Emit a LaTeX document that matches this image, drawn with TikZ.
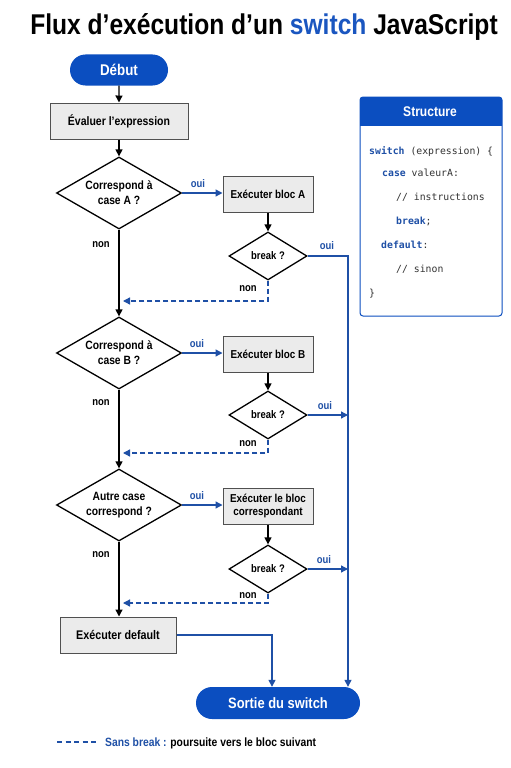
\documentclass[tikz,border=0pt]{standalone}
\usepackage{fontspec}
\setmainfont{Liberation Sans}[FakeStretch=0.86]
\newfontfamily\codefont{DejaVu Sans Mono}
\usetikzlibrary{arrows.meta,shapes.geometric,shapes.misc,calc}
\definecolor{mainblue}{HTML}{0B4EC0}
\definecolor{lineblue}{HTML}{1F50A6}
\definecolor{titleblue}{HTML}{1A56C0}
\definecolor{boxfill}{HTML}{EBEBEB}
\definecolor{boxborder}{HTML}{505050}
\definecolor{codegray}{HTML}{333333}
\begin{document}
\begin{tikzpicture}[x=1pt,y=-1pt,
  tip/.style={-{Triangle[length=7pt,width=7pt]}},
  flow/.style={draw=black, line width=1.3pt, tip},
  bline/.style={draw=lineblue, line width=1.3pt},
  bflow/.style={bline, tip},
  dflow/.style={bflow, dash pattern=on 5pt off 3pt},
  procbox/.style={rectangle, draw=boxborder, fill=boxfill, line width=1pt, inner sep=0, align=center, font=\bfseries\fontsize{11.5}{13.5}\selectfont},
  decision/.style={diamond, draw=black, fill=white, line width=1.3pt, aspect=1.75, inner sep=0, align=center, font=\bfseries\fontsize{12}{15}\selectfont},
  brk/.style={decision, minimum width=78, minimum height=48, font=\bfseries\fontsize{11}{13}\selectfont},
  terminal/.style={rounded rectangle, fill=mainblue, text=white, inner sep=0, font=\bfseries\fontsize{15}{17}\selectfont},
  oui/.style={text=lineblue, font=\bfseries\fontsize{11}{13}\selectfont},
  non/.style={text=black, font=\bfseries\fontsize{11}{13}\selectfont},
  code/.style={anchor=base west, inner sep=0, text=codegray, font=\codefont\fontsize{9.8}{12}\selectfont}]
\useasboundingbox (0,0) rectangle (511,768);
\fill[white] (0,0) rectangle (511,768);

% title
\node (title) at (264,27) {\bfseries\fontsize{28.6}{30}\selectfont Flux d’exécution d’un \textcolor{titleblue}{switch} JavaScript};

% main nodes
\node[terminal, minimum width=98, minimum height=31, font=\bfseries\fontsize{15.5}{17}\selectfont] (debut) at (119,70) {Début};
\node[procbox, minimum width=138, minimum height=36, font=\bfseries\fontsize{12.2}{15}\selectfont] (eval) at (119,121) {Évaluer l’expression};
\node[decision, minimum width=125, minimum height=72] (decA) at (119,193) {Correspond à\\case A ?};
\node[procbox, minimum width=90, minimum height=36] (boxA) at (268,194) {Exécuter bloc A};
\node[brk] (brkA) at (268,256) {break ?};

\node[decision, minimum width=125, minimum height=72] (decB) at (119,353) {Correspond à\\case B ?};
\node[procbox, minimum width=90, minimum height=36] (boxB) at (268,354) {Exécuter bloc B};
\node[brk] (brkB) at (268,415) {break ?};

\node[decision, minimum width=125, minimum height=72] (decC) at (119,505) {Autre case\\correspond ?};
\node[procbox, minimum width=90, minimum height=36] (boxC) at (268,506) {Exécuter le bloc\\correspondant};
\node[brk] (brkC) at (268,569) {break ?};

\node[procbox, minimum width=116, minimum height=36, font=\bfseries\fontsize{12.5}{14}\selectfont] (def) at (118,635) {Exécuter default};
\node[terminal, minimum width=164, minimum height=32] (sortie) at (278,703) {Sortie du switch};

% black flow
\draw[flow] (debut) -- (eval);
\draw[flow] (eval) -- (decA);
\draw[flow] (decA) -- (decB);
\draw[flow] (decB) -- (decC);
\draw[flow] (decC.south) -- (decC.south |- def.north);
\draw[flow] (boxA) -- (brkA);
\draw[flow] (boxB) -- (brkB);
\draw[flow] (boxC) -- (brkC);

% oui to blocks
\draw[bflow] (decA.east) -- (boxA.west |- decA.east);
\draw[bflow] (decB.east) -- (boxB.west |- decB.east);
\draw[bflow] (decC.east) -- (boxC.west |- decC.east);
\node[oui] at (198,184) {oui};
\node[oui] at (197,344) {oui};
\node[oui] at (197,496) {oui};

% non labels main
\node[non] at (101,245) {non};
\node[non] at (101,403) {non};
\node[non] at (101,555) {non};

% break oui
\coordinate (rtop) at (348,256);
\draw[bflow] (brkA.east) -- (rtop) -- (rtop |- sortie.north);
\draw[bflow] (brkB.east) -- (rtop |- brkB.east);
\draw[bflow] (brkC.east) -- (rtop |- brkC.east);
\node[oui] at (327,246) {oui};
\node[oui] at (325,406) {oui};
\node[oui] at (324,560) {oui};

% break non (dashed)
\coordinate (jA) at (123,301);
\coordinate (jB) at (123,453);
\coordinate (jC) at (123,603);
\draw[dflow] (brkA.south) |- (jA);
\draw[dflow] (brkB.south) |- (jB);
\draw[dflow] (brkC.south) |- (jC);
\node[non] at (248,289) {non};
\node[non] at (248,444) {non};
\node[non] at (248,596) {non};

% default to exit
\coordinate (sin) at (272,703);
\draw[bflow] (def.east) -| (sin |- sortie.north);

% structure panel
\begin{scope}
\clip[rounded corners=3] (360,97) rectangle (502,316);
\fill[white] (360,97) rectangle (502,316);
\fill[mainblue] (360,97) rectangle (502,126);
\end{scope}
\draw[mainblue, line width=1pt, rounded corners=3] (360,97) rectangle (502,316);
\node[text=white, font=\bfseries\fontsize{14}{16}\selectfont] (structhead) at (430,112) {Structure};
\node[code] (c1) at (369,154.5) {\textcolor{lineblue}{\bfseries switch} (expression) \{};
\node[code] (c2) at (382,176.5) {\textcolor{lineblue}{\bfseries case} valeurA:};
\node[code] (c3) at (396,200.5) {// instructions};
\node[code] (c4) at (396,224.5) {\textcolor{lineblue}{\bfseries break};};
\node[code] (c5) at (381,248.5) {\textcolor{lineblue}{\bfseries default}:};
\node[code] (c6) at (396,272.5) {// sinon};
\node[code] (c7) at (369,296.5) {\}};

% legend
\coordinate (lg1) at (57,742);
\coordinate (lg2) at (97,742);
\draw[bline, dash pattern=on 5pt off 3.5pt] (lg1) -- (lg2);
\node[anchor=base west, inner sep=0, font=\bfseries\fontsize{12}{14}\selectfont] (legend) at (105,746) {\textcolor{lineblue}{Sans break :} poursuite vers le bloc suivant};
\end{tikzpicture}
\end{document}
